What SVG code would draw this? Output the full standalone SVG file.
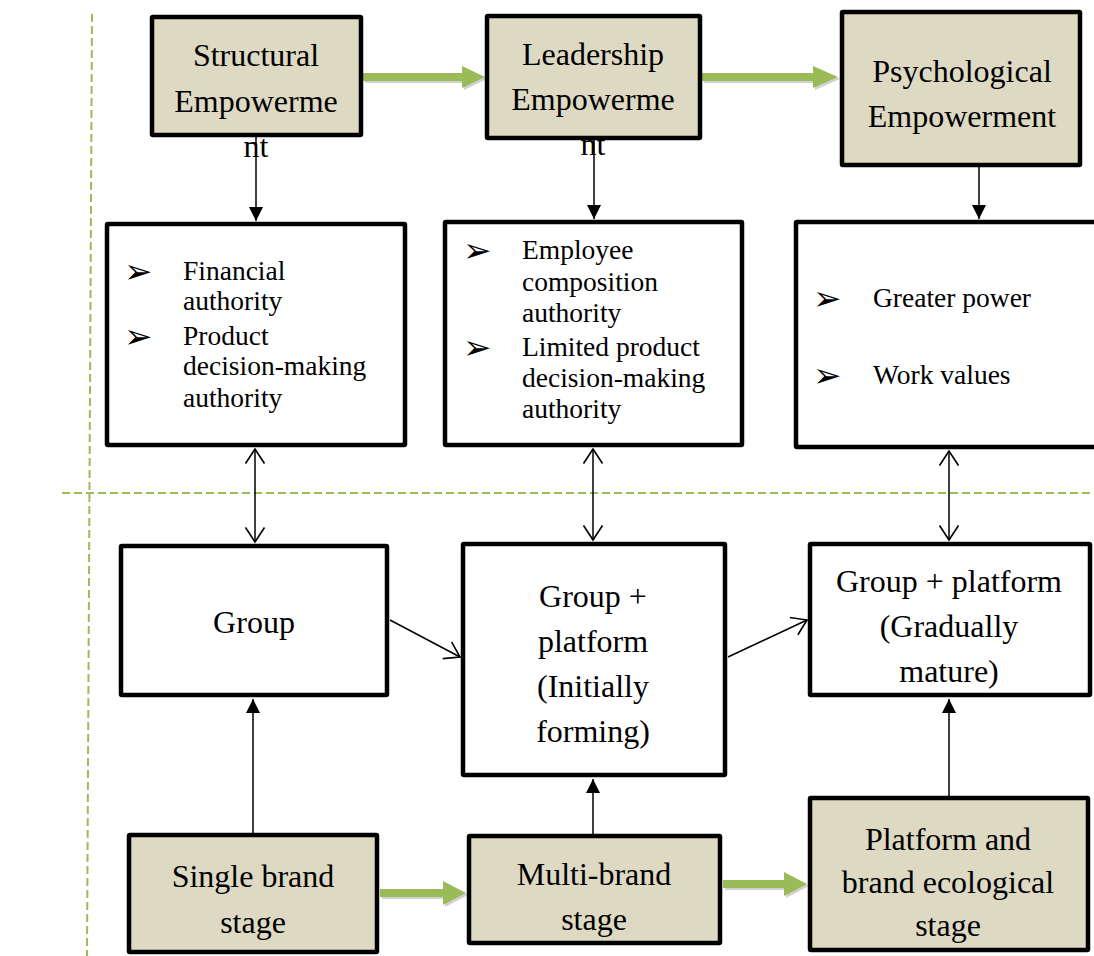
<svg xmlns="http://www.w3.org/2000/svg" width="1094" height="956" viewBox="0 0 1094 956">
<style>
.bg{fill:#ffffff}
.box{fill:#ffffff;stroke:#000;stroke-width:4.5}
.tan{fill:#DDD9C3;stroke:#000;stroke-width:4.5}
.t{font-family:"Liberation Serif","Times New Roman",serif;font-size:32px;fill:#000;text-anchor:middle}
.b{font-family:"Liberation Serif","Times New Roman",serif;font-size:27.5px;fill:#000}
.bul{font-family:"DejaVu Sans",sans-serif;font-size:34px;fill:#000}
.dash{stroke:#9BBB59;stroke-width:2;stroke-dasharray:8 4;fill:none}
.ln{stroke:#000;stroke-width:1.5;fill:none}
.green{fill:#9BBB59}
.shadow{fill:#000;opacity:0.18}
</style>
<defs>
<marker id="fa" viewBox="0 0 14 14" refX="14" refY="7" markerWidth="14" markerHeight="14" markerUnits="userSpaceOnUse" orient="auto">
<path d="M0,0 L14,7 L0,14 Z" fill="#000"/>
</marker>
<marker id="oa" viewBox="0 0 17 21" refX="15.5" refY="10.5" markerWidth="17" markerHeight="21" markerUnits="userSpaceOnUse" orient="auto-start-reverse">
<path d="M1,1 L15.5,10.5 L1,20" fill="none" stroke="#000" stroke-width="1.6"/>
</marker>
</defs>
<rect class="bg" x="0" y="0" width="1094" height="956"/>
<g id="guides">
<line class="dash" x1="92" y1="14" x2="87" y2="956"/>
<line class="dash" x1="62" y1="493" x2="1094" y2="493"/>
</g>
<g id="connectors">
<path class="shadow" d="M365,75 H464 V68 L487,79 L464,90 V83 H365 Z"/>
<path class="green" d="M363,73 H462 V66 L485,77 L462,88 V81 H363 Z"/>
<path class="shadow" d="M704,75 H815 V68 L840,79 L815,90 V83 H704 Z"/>
<path class="green" d="M702,73 H813 V66 L838,77 L813,88 V81 H702 Z"/>
<path class="shadow" d="M382,891 H445 V883 L468,895 L445,907 V899 H382 Z"/>
<path class="green" d="M380,889 H443 V881 L466,893 L443,905 V897 H380 Z"/>
<path class="shadow" d="M725,882 H786 V874 L809,886 L786,898 V890 H725 Z"/>
<path class="green" d="M723,880 H784 V872 L807,884 L784,896 V888 H723 Z"/>
<line class="ln" x1="256" y1="137" x2="256" y2="221" marker-end="url(#fa)"/>
<line class="ln" x1="594" y1="140" x2="594" y2="219" marker-end="url(#fa)"/>
<line class="ln" x1="979" y1="167" x2="979" y2="219" marker-end="url(#fa)"/>
<line class="ln" x1="255" y1="449" x2="255" y2="542" marker-start="url(#oa)" marker-end="url(#oa)"/>
<line class="ln" x1="593" y1="449" x2="593" y2="540" marker-start="url(#oa)" marker-end="url(#oa)"/>
<line class="ln" x1="949" y1="451" x2="949" y2="540" marker-start="url(#oa)" marker-end="url(#oa)"/>
<line class="ln" x1="390" y1="620" x2="460" y2="657" marker-end="url(#oa)"/>
<line class="ln" x1="728" y1="657" x2="807" y2="620" marker-end="url(#oa)"/>
<line class="ln" x1="253" y1="833" x2="253" y2="699" marker-end="url(#fa)"/>
<line class="ln" x1="593" y1="834" x2="593" y2="779" marker-end="url(#fa)"/>
<line class="ln" x1="949" y1="796" x2="949" y2="699" marker-end="url(#fa)"/>
</g>
<g id="structural">
<rect class="tan" x="152" y="17" width="209" height="118" rx="1"/>
<text class="t" x="256" y="66">Structural</text>
<text class="t" x="256" y="112">Empowerme</text>
<text class="t" x="256" y="157">nt</text>
</g>
<g id="leadership">
<rect class="tan" x="487" y="16" width="213" height="122" rx="1"/>
<text class="t" x="593" y="65">Leadership</text>
<text class="t" x="593" y="110">Empowerme</text>
<text class="t" x="593" y="155">nt</text>
</g>
<g id="psychological">
<rect class="tan" x="842" y="12" width="238" height="153" rx="1"/>
<text class="t" x="962" y="82">Psychological</text>
<text class="t" x="962" y="127">Empowerment</text>
</g>
<g id="structural-items">
<rect class="box" x="107" y="224" width="298" height="221" rx="1"/>
<text class="bul" x="124" y="283">➢</text>
<text class="b" x="183" y="280">Financial</text>
<text class="b" x="183" y="310">authority</text>
<text class="bul" x="124" y="348">➢</text>
<text class="b" x="183" y="345">Product</text>
<text class="b" x="183" y="375">decision-making</text>
<text class="b" x="183" y="407">authority</text>
</g>
<g id="leadership-items">
<rect class="box" x="445" y="222" width="297" height="223" rx="1"/>
<text class="bul" x="463" y="262">➢</text>
<text class="b" x="522" y="259">Employee</text>
<text class="b" x="522" y="291">composition</text>
<text class="b" x="522" y="322">authority</text>
<text class="bul" x="463" y="359">➢</text>
<text class="b" x="522" y="356">Limited product</text>
<text class="b" x="522" y="387">decision-making</text>
<text class="b" x="522" y="418">authority</text>
</g>
<g id="psychological-items">
<rect class="box" x="796" y="222" width="310" height="225" rx="1"/>
<text class="bul" x="813" y="310">➢</text>
<text class="b" x="873" y="307">Greater power</text>
<text class="bul" x="813" y="387">➢</text>
<text class="b" x="873" y="384">Work values</text>
</g>
<g id="group">
<rect class="box" x="121" y="546" width="266" height="149" rx="1"/>
<text class="t" x="254" y="633">Group</text>
</g>
<g id="group-platform-initial">
<rect class="box" x="463" y="544" width="262" height="231" rx="1"/>
<text class="t" x="593" y="607">Group +</text>
<text class="t" x="593" y="652">platform</text>
<text class="t" x="593" y="697">(Initially</text>
<text class="t" x="593" y="742">forming)</text>
</g>
<g id="group-platform-mature">
<rect class="box" x="810" y="544" width="280" height="151" rx="1"/>
<text class="t" x="949" y="592">Group + platform</text>
<text class="t" x="949" y="637">(Gradually</text>
<text class="t" x="949" y="682">mature)</text>
</g>
<g id="single-brand">
<rect class="tan" x="129" y="835" width="248" height="117" rx="1"/>
<text class="t" x="253" y="887">Single brand</text>
<text class="t" x="253" y="933">stage</text>
</g>
<g id="multi-brand">
<rect class="tan" x="469" y="836" width="251" height="107" rx="1"/>
<text class="t" x="594" y="885">Multi-brand</text>
<text class="t" x="594" y="930">stage</text>
</g>
<g id="platform-brand">
<rect class="tan" x="810" y="798" width="278" height="152" rx="1"/>
<text class="t" x="948" y="850">Platform and</text>
<text class="t" x="948" y="893">brand ecological</text>
<text class="t" x="948" y="936">stage</text>
</g>
</svg>
